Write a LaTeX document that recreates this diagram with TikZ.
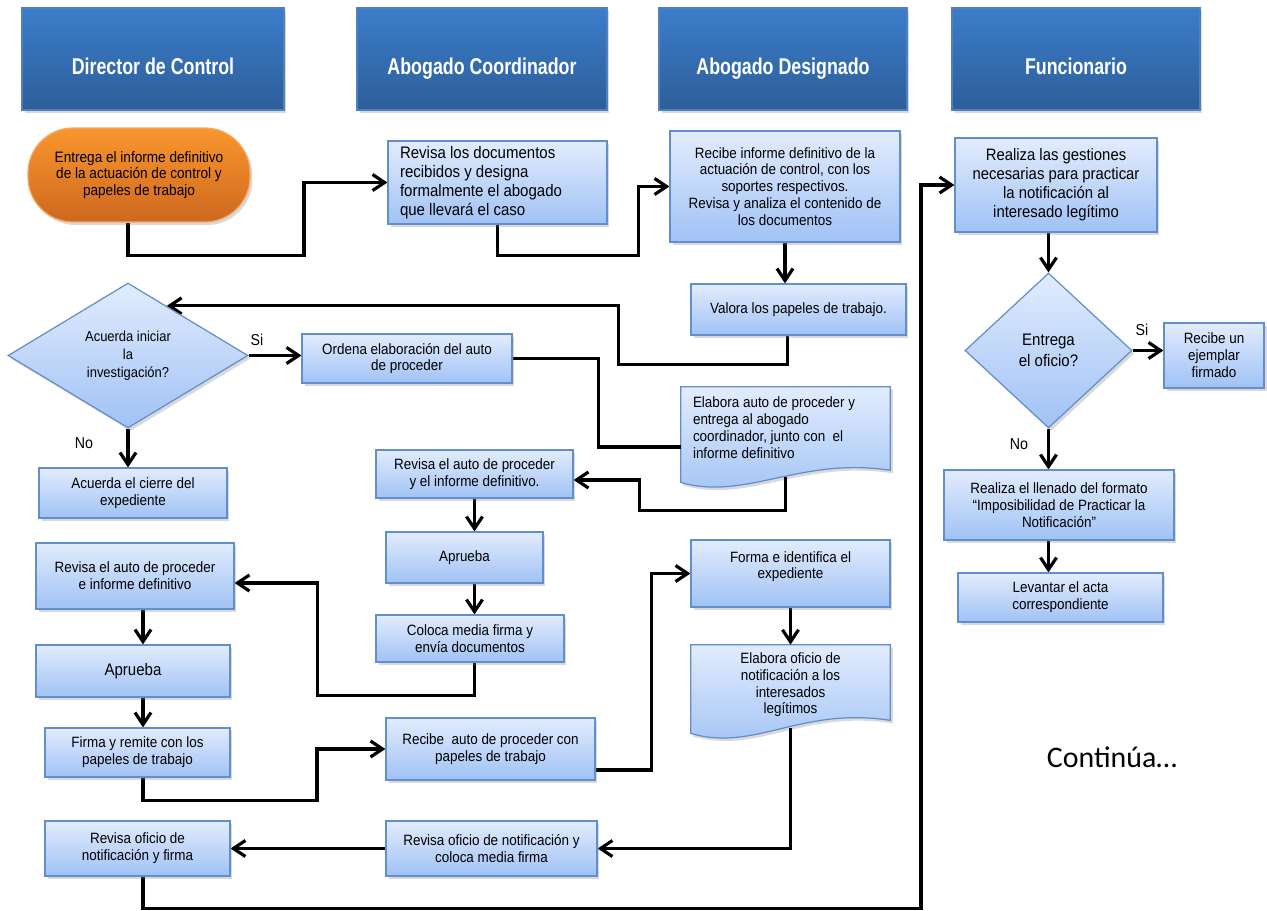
\documentclass[tikz,border=0pt]{standalone}
\usepackage{fontspec}
\setmainfont[FakeStretch=0.9]{Liberation Sans}
\newfontfamily\headfont[FakeStretch=0.78]{Liberation Sans}
\newfontfamily\contfont{Carlito}
\usepackage{tikz}
\usetikzlibrary{arrows.meta,positioning,calc,shapes.geometric,shadows,backgrounds}
\definecolor{HeadTop}{RGB}{60,125,202}
\definecolor{HeadBot}{RGB}{44,94,154}
\definecolor{HeadLine}{RGB}{80,128,190}
\definecolor{BoxTop}{RGB}{226,236,253}
\definecolor{BoxBot}{RGB}{160,194,245}
\definecolor{BoxLine}{RGB}{98,142,204}
\definecolor{OrTop}{RGB}{250,150,45}
\definecolor{OrBot}{RGB}{206,104,32}
\definecolor{OrLine}{RGB}{244,168,98}

\begin{document}
\begin{tikzpicture}[x=0.02cm,y=-0.02cm,>={Straight Barb[length=2.4mm,width=3.2mm]},
  shadowed/.style={drop shadow={shadow xshift=0.05cm,shadow yshift=-0.06cm,opacity=0.3}},
  box/.style={shadowed,draw=BoxLine,line width=0.7pt,top color=BoxTop,bottom color=BoxBot,
    align=center,inner sep=2pt,font=\fontsize{8.5}{9.6}\selectfont},
  head/.style={shadowed,draw=HeadLine,line width=0.7pt,top color=HeadTop,bottom color=HeadBot,
    minimum height=2.04cm,text=white,text height=0.72cm,text depth=0.1cm,
    font=\headfont\bfseries\fontsize{13}{15}\selectfont},
  term/.style={shadowed,draw=OrLine,line width=0.7pt,top color=OrTop,bottom color=OrBot,
    rounded corners=0.9cm,align=center,font=\fontsize{8.6}{9.6}\selectfont},
  decide/.style={diamond,shadowed,draw=BoxLine,line width=0.7pt,top color=BoxTop,bottom color=BoxBot,
    inner sep=0pt,align=center,font=\fontsize{8.2}{10.2}\selectfont},
  doc/.style={align=center,inner sep=2pt,font=\fontsize{8.5}{9.6}\selectfont},
  docshape/.style={shadowed,draw=BoxLine,line width=0.7pt,top color=BoxTop,bottom color=BoxBot},
  flow/.style={->,line width=1.8pt},
  link/.style={line width=1.8pt},
  lbl/.style={font=\fontsize{9}{10}\selectfont}]
\useasboundingbox (0,0) rectangle (1267,910);

% lanes
\node[head,minimum width=5.24cm] (hdir) at (153,59) {Director de Control};
\node[head,minimum width=5.00cm] (hcoord) at (482,59) {Abogado Coordinador};
\node[head,minimum width=4.96cm] (hdesig) at (783,59) {Abogado Designado};
\node[head,minimum width=4.96cm] (hfunc) at (1076,59) {Funcionario};

% Director de Control
\node[term,minimum width=4.44cm,minimum height=1.88cm] (start) at (139,175) {Entrega el informe definitivo\\de la actuación de control y\\papeles de trabajo};
\node[decide,minimum width=4.8cm,minimum height=2.9cm] (iniciar) at (128,355.5) {Acuerda iniciar\\la\\investigación?};
\node[box,minimum width=3.76cm,minimum height=1.0cm] (cierre) at (133,493) {Acuerda el cierre del\\expediente};
\node[box,minimum width=3.96cm,minimum height=1.32cm] (revdir) at (135,576) {Revisa el auto de proceder\\e informe definitivo};
\node[box,minimum width=3.88cm,minimum height=1.04cm,font=\fontsize{9.5}{11}\selectfont] (apdir) at (133,671) {Aprueba};
\node[box,minimum width=3.7cm,minimum height=0.98cm] (firma) at (137.5,752.5) {Firma y remite con los\\papeles de trabajo};
\node[box,minimum width=3.7cm,minimum height=1.1cm] (ofidir) at (137.5,848.5) {Revisa oficio de\\notificación y firma};

% Abogado Coordinador
\node[box,align=flush left,text width=3.9cm,inner xsep=0.24cm,minimum height=1.66cm,font=\fontsize{9.5}{10.8}\selectfont] (revdoc) at (497.5,182.5) {Revisa los documentos\\recibidos y designa\\formalmente el abogado\\que llevará el caso};
\node[box,minimum width=4.2cm,minimum height=0.98cm] (ordena) at (407,358.5) {Ordena elaboración del auto\\de proceder};
\node[box,minimum width=3.94cm,minimum height=0.96cm] (revcoord) at (474.5,474) {Revisa el auto de proceder\\y el informe definitivo.};
\node[box,minimum width=3.14cm,minimum height=1.02cm] (apcoord) at (464.5,557.5) {Aprueba};
\node[box,minimum width=3.76cm,minimum height=0.94cm] (coloca) at (470,638.5) {Coloca media firma y\\envía documentos};
\node[box,minimum width=4.18cm,minimum height=1.24cm] (recauto) at (490.5,749) {Recibe\ \ auto de proceder con\\papeles de trabajo};
\node[box,minimum width=4.22cm,minimum height=1.1cm] (oficoord) at (491.5,848.5) {Revisa oficio de notificación y\\coloca media firma};

% Abogado Designado
\node[box,minimum width=4.6cm,minimum height=2.22cm] (recibe) at (785,186.5) {Recibe informe definitivo de la\\actuación de control, con los\\soportes respectivos.\\Revisa y analiza el contenido de\\los documentos};
\node[box,minimum width=4.3cm,minimum height=1.02cm] (valora) at (798.5,309.5) {Valora los papeles de trabajo.};
\node[doc,align=flush left,text width=3.7cm,inner xsep=0.24cm,minimum height=1.9cm] (elabauto) at (785.5,434.5) {Elabora auto de proceder y\\entrega al abogado\\coordinador, junto con\ \ el\\informe definitivo\\[-2pt]\mbox{}};
\node[box,minimum width=3.98cm,minimum height=1.34cm] (forma) at (790.5,573.5) {Forma e identifica el\\expediente\\\mbox{}};
\node[doc,minimum width=3.98cm,minimum height=1.76cm] (elabofi) at (790.5,689) {Elabora oficio de\\notificación a los\\interesados\\legítimos\\[-3pt]\mbox{}};

% Funcionario
\node[box,minimum width=4.04cm,minimum height=1.88cm,font=\fontsize{9.4}{10.8}\selectfont] (gestion) at (1056,185) {Realiza las gestiones\\necesarias para practicar\\la notificación al\\interesado legítimo};
\node[decide,minimum width=3.34cm,minimum height=3.1cm,font=\fontsize{9.5}{11.9}\selectfont] (entrega) at (1048.5,350.5) {Entrega\\el oficio?};
\node[box,minimum width=2.0cm,minimum height=1.3cm] (ejemplar) at (1214,355.5) {Recibe un\\ejemplar\\firmado};
\node[box,minimum width=4.6cm,minimum height=1.4cm] (llenado) at (1059,505) {Realiza el llenado del formato\\“Imposibilidad de Practicar la\\Notificación”};
\node[box,minimum width=4.1cm,minimum height=0.98cm] (acta) at (1060.5,597.5) {Levantar el acta\\correspondiente};

\node[font=\contfont\fontsize{17}{20}\selectfont] (cont) at (1112,757) {Continúa…};

\node[lbl] (si1) at (257,340) {Si};
\node[lbl] (no1) at (84,443) {No};
\node[lbl] (si2) at (1142,330) {Si};
\node[lbl] (no2) at (1019,444) {No};

\coordinate (lcol) at (143,0);

\begin{scope}[on background layer]
% document shapes
\path[docshape] (elabauto.north west) -- (elabauto.north east) -- ([yshift=0.24cm]elabauto.south east)
  .. controls +(-90,-14) and +(64,19) .. (elabauto.south west) -- cycle;
\path[docshape] (elabofi.north west) -- (elabofi.north east) -- ([yshift=0.26cm]elabofi.south east)
  .. controls +(-90,-14) and +(64,19) .. (elabofi.south west) -- cycle;

% connectors
\draw[flow] ([xshift=-0.22cm]start.south) -- ++(0,33) -- ++(176,0) |- (revdoc.west);
\draw[flow] (revdoc.south) -- ++(0,31) -- ++(141,0) |- (recibe.west);
\draw[flow] (recibe.south) -- (recibe.south |- valora.north);
\draw[flow] ([xshift=-0.22cm]valora.south) -- ++(0,29) -- ++(-169,0) |- (iniciar.52);
\draw[flow] (iniciar.east) -- (iniciar.east -| ordena.west);
\draw[flow] (iniciar.south) -- (iniciar.south |- cierre.north);
\draw[link] (ordena.east) -- ++(86,0) |- ([yshift=-0.25cm]elabauto.west);
\draw[flow] ([yshift=0.1cm]elabauto.south) -- ++(0,33) -- ++(-146,0) |- ([yshift=-0.12cm]revcoord.east);
\draw[flow] (revcoord.south) -- (revcoord.south |- apcoord.north);
\draw[flow] (revcoord.south |- apcoord.south) -- (revcoord.south |- coloca.north);
\draw[flow] (revcoord.south |- coloca.south) -- ++(0,33) -- ++(-157,0) |- ([yshift=-0.14cm]revdir.east);
\draw[flow] (lcol |- revdir.south) -- (lcol |- apdir.north);
\draw[flow] (lcol |- apdir.south) -- (lcol |- firma.north);
\draw[flow] (lcol |- firma.south) -- ++(0,23) -- ++(174,0) |- (recauto.west);
\draw[flow] ([yshift=-0.42cm]recauto.east) -- ++(56,0) |- (forma.west);
\draw[flow] (forma.south) -- (forma.south |- elabofi.north);
\draw[flow] ([yshift=0.1cm]elabofi.south) |- (oficoord.east);
\draw[flow] (oficoord.west) -- (ofidir.east);
\draw[flow] (lcol |- ofidir.south) -- ++(0,32) -- ++(778,0) |- (gestion.west);
\draw[flow] (entrega.north |- gestion.south) -- (entrega.north);
\draw[flow] (entrega.east) -- (entrega.east -| ejemplar.west);
\draw[flow] (entrega.south) -- (entrega.south |- llenado.north);
\draw[flow] (entrega.south |- llenado.south) -- (entrega.south |- acta.north);
\end{scope}
\end{tikzpicture}
\end{document}
